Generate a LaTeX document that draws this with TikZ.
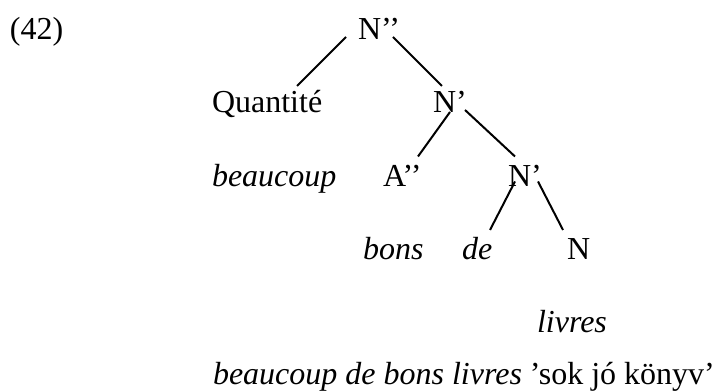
\documentclass[tikz,border=0pt]{standalone}
\usepackage{fontspec}
\setmainfont{Liberation Serif}
\usetikzlibrary{calc}
\tikzset{
  lbl/.style={anchor=base west, inner sep=0pt, outer sep=0pt, font=\fontsize{12.8}{15}\selectfont},
  it/.style={lbl, font=\fontsize{12.8}{15}\selectfont\itshape},
  branch/.style={line width=0.8pt}
}
\begin{document}
\begin{tikzpicture}[x=1pt,y=1pt]
\useasboundingbox (0,0) rectangle (285.6,156.8);
\node[lbl] (ex) at (4,140.8) {(42)};
\node[lbl] (Npp) at (143.2,140.8) {N’’};
\node[lbl] (quant) at (84.8,111.6) {Quantité};
\node[lbl] (Np1) at (173.2,111.6) {N’};
\node[it] (beau) at (84.8,82.2) {beaucoup};
\node[lbl] (App) at (153.2,82.2) {A’’};
\node[lbl] (Np2) at (203.2,82.2) {N’};
\node[it] (bons) at (145.2,52.8) {bons};
\node[it] (de) at (184.8,52.8) {de};
\node[lbl] (N) at (226.8,52.8) {N};
\node[it] (livres) at (214.8,23.6) {livres};
\node[lbl] (gloss) at (85.2,2.8) {\textit{beaucoup de bons livres} ’sok jó könyv’};
\draw[branch] ($(Npp.base west)+(-4.8,1.2)$) -- ($(quant.base west)+(34,10.8)$);
\draw[branch] ($(Npp.base west)+(14,1.2)$) -- ($(Np1.base west)+(3.6,10.8)$);
\draw[branch] ($(Np1.base west)+(6.8,0.4)$) -- ($(App.base west)+(14,12)$);
\draw[branch] ($(Np1.base west)+(12.8,1.2)$) -- ($(Np2.base west)+(2.8,12)$);
\draw[branch] ($(Np2.base west)+(2.8,2)$) -- ($(de.base west)+(11.2,12)$);
\draw[branch] ($(Np2.base west)+(12,2)$) -- ($(N.base west)+(-1.6,12)$);
\end{tikzpicture}
\end{document}
